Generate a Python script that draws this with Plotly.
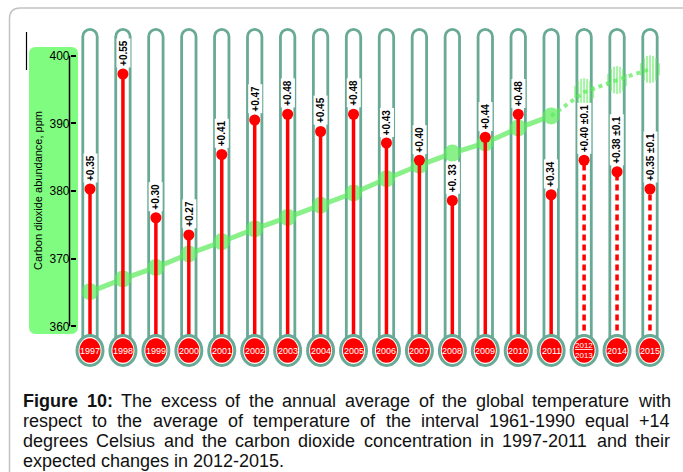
import math
import plotly.graph_objects as go

# ---------------- data ----------------
years = ["1997", "1998", "1999", "2000", "2001", "2002", "2003", "2004", "2005",
         "2006", "2007", "2008", "2009", "2010", "2011", "2012/2013", "2014", "2015"]
temp_anomaly = [0.35, 0.55, 0.30, 0.27, 0.41, 0.47, 0.48, 0.45, 0.48,
                0.43, 0.40, 0.33, 0.44, 0.48, 0.34, 0.40, 0.38, 0.35]
temp_labels = ["+0.35", "+0.55", "+0.30", "+0.27", "+0.41", "+0.47", "+0.48", "+0.45", "+0.48",
               "+0.43", "+0.40", "+0. 33", "+0.44", "+0.48", "+0.34",
               "+0.40 ±0.1", "+0.38 ±0.1", "+0.35 ±0.1"]
co2_ppm = [365.1, 367.0, 368.7, 370.7, 372.5, 374.4, 376.1, 377.9, 379.7,
           381.8, 383.8, 385.6, 387.1, 389.3, 391.1, 394.6, 396.4, 398.0]
n_observed = 15          # 1997-2011 measured, the rest expected
ppm_ticks = [360, 370, 380, 390, 400]
axis_title = "Carbon dioxide abundance, ppm"
caption_lines = [
    "Figure 10: The excess of the annual average of the global temperature with",
    "respect to the average of temperature of the interval 1961-1990 equal +14",
    "degrees Celsius and the carbon dioxide concentration in 1997-2011 and their",
    "expected changes in 2012-2015.",
]

# ---------------- geometry / styles ----------------
W, H = 683, 472
COL0_PX, COL_STEP_PX = 90.0, 32.94
PPM_REF, PPM_REF_PX, PX_PER_PPM = 400.0, 55.7, 6.765
T_REF, T_REF_PX, PX_PER_DEG = 0.35, 189.0, 575.0
BULB_PX = 350.5
TUBE_TOP_PX = 29.4
AXIS_X_PX = 69.5

TEAL = "rgb(104,170,150)"
GREEN = "rgb(90,236,90)"
BOX_GREEN = "rgb(128,252,128)"
RED = "#ff0000"
FONT = "Liberation Sans, Arial, sans-serif"
NARROW = "Liberation Sans Narrow, Arial Narrow, Liberation Sans, sans-serif"


def ppm_at(py):
    return PPM_REF - (py - PPM_REF_PX) / PX_PER_PPM


def temp_at(py):
    return T_REF - (py - T_REF_PX) / PX_PER_DEG


def dx(px):
    return px / COL_STEP_PX


def dppm(px):
    return px / PX_PER_PPM


def px_x(p):
    return p / W


def px_y(p):
    return 1 - p / H


n = len(years)
idx = list(range(n))
x_range = [(0 - COL0_PX) / COL_STEP_PX, (W - COL0_PX) / COL_STEP_PX]
y_range = [ppm_at(H), ppm_at(0)]
y2_range = [temp_at(H), temp_at(0)]

fig = go.Figure()

# thermometer tubes
base = ppm_at(BULB_PX)
fig.add_trace(go.Bar(
    x=idx, y=[ppm_at(TUBE_TOP_PX) - base] * n, base=base, width=dx(14.4),
    marker=dict(color="white", line=dict(color=TEAL, width=2.8), cornerradius="50%"),
    hoverinfo="skip"))

# CO2 observed
fig.add_trace(go.Scatter(
    x=idx[:n_observed], y=co2_ppm[:n_observed], mode="lines+markers",
    line=dict(color=GREEN, width=5), marker=dict(size=17, color=GREEN),
    opacity=0.7, hoverinfo="skip"))
# CO2 expected (dotted)
fig.add_trace(go.Scatter(
    x=idx[n_observed - 1:], y=co2_ppm[n_observed - 1:], mode="lines",
    line=dict(color=GREEN, width=4, dash="dot"), opacity=0.7, hoverinfo="skip"))
# hatched markers for the expected CO2 points
hx, hy, hs = [], [], []
R = 10.0
for j in range(n_observed, n):
    for k in range(-3, 4):
        off = 3.0 * k
        hx.append(j + dx(off))
        hy.append(co2_ppm[j])
        hs.append(2 * math.sqrt(R * R - off * off))
fig.add_trace(go.Scatter(
    x=hx, y=hy, mode="markers",
    marker=dict(symbol="line-ns", size=hs, line=dict(color=GREEN, width=2)),
    opacity=0.75, hoverinfo="skip"))

# red thermometer columns (temperature axis)
t_bulb = temp_at(BULB_PX)
sx, sy, dxs, dys = [], [], [], []
for i in idx:
    if i < n_observed:
        sx += [i, i, None]
        sy += [t_bulb, temp_anomaly[i], None]
    else:
        dxs += [i, i, None]
        dys += [t_bulb, temp_anomaly[i], None]
fig.add_trace(go.Scatter(x=sx, y=sy, yaxis="y2", mode="lines",
                         line=dict(color=RED, width=3.5), hoverinfo="skip"))
fig.add_trace(go.Scatter(x=dxs, y=dys, yaxis="y2", mode="lines",
                         line=dict(color=RED, width=3.5, dash="6px,4px"), hoverinfo="skip"))
fig.add_trace(go.Scatter(x=idx, y=temp_anomaly, yaxis="y2", mode="markers",
                         marker=dict(size=11, color=RED), hoverinfo="skip"))

shapes = []


def rounded_rect(x0, y0, x1, y1, r):
    pts = [
        f"M{px_x(x0 + r)},{px_y(y0)}",
        f"L{px_x(x1 - r)},{px_y(y0)}",
        f"Q{px_x(x1)},{px_y(y0)} {px_x(x1)},{px_y(y0 + r)}",
        f"L{px_x(x1)},{px_y(y1 - r)}",
        f"Q{px_x(x1)},{px_y(y1)} {px_x(x1 - r)},{px_y(y1)}",
        f"L{px_x(x0 + r)},{px_y(y1)}",
        f"Q{px_x(x0)},{px_y(y1)} {px_x(x0)},{px_y(y1 - r)}",
        f"L{px_x(x0)},{px_y(y0 + r)}",
        f"Q{px_x(x0)},{px_y(y0)} {px_x(x0 + r)},{px_y(y0)}",
        "Z",
    ]
    return " ".join(pts)


# outer frame (grey rounded corner)
shapes.append(dict(type="path", xref="paper", yref="paper", layer="below",
                   path=(f"M{px_x(9.5)},{px_y(H)} L{px_x(9.5)},{px_y(19)} "
                         f"Q{px_x(9.5)},{px_y(8)} {px_x(20)},{px_y(8)} L{px_x(W)},{px_y(8)}"),
                   line=dict(color="rgb(195,195,195)", width=1.5)))
# small black mark at top-left
shapes.append(dict(type="line", xref="paper", yref="paper",
                   x0=px_x(26.5), x1=px_x(26.5), y0=px_y(32), y1=px_y(70),
                   line=dict(color="black", width=1.2)))
# green box behind the CO2 axis
shapes.append(dict(type="path", xref="paper", yref="paper", layer="below",
                   path=rounded_rect(29, 47, 78, 334, 7),
                   fillcolor=BOX_GREEN, line=dict(width=0)))
# CO2 axis line
shapes.append(dict(type="line", xref="paper", yref="y",
                   x0=px_x(AXIS_X_PX), x1=px_x(AXIS_X_PX),
                   y0=ppm_ticks[0], y1=ppm_ticks[-1],
                   line=dict(color="black", width=1.5)))
# thermometer bulbs
for i in idx:
    shapes.append(dict(type="circle", xref="x", yref="y", layer="above",
                       x0=i - dx(13), x1=i + dx(13),
                       y0=base - dppm(15), y1=base + dppm(15),
                       fillcolor="white", line=dict(color=TEAL, width=3)))
    shapes.append(dict(type="circle", xref="x", yref="y", layer="above",
                       x0=i - dx(10.5), x1=i + dx(10.5),
                       y0=base - dppm(12.2), y1=base + dppm(12.2),
                       fillcolor=RED, line=dict(width=0)))

annotations = []
# year labels
for i, yr in enumerate(years):
    if "/" in yr:
        a, b = yr.split("/")
        txt, size = f"<u>{a}</u><br>{b}", 8
    else:
        txt, size = yr, 9
    annotations.append(dict(x=i, y=base, xref="x", yref="y", text=txt, showarrow=False,
                            font=dict(family=NARROW, size=size, color="white"),
                            xanchor="center", yanchor="middle", borderpad=0))
# temperature labels
for i, lab in enumerate(temp_labels):
    annotations.append(dict(x=i, y=temp_anomaly[i], xref="x", yref="y2", text=f"<b>{lab}</b>",
                            showarrow=False, textangle=-90, yanchor="bottom", xanchor="center",
                            yshift=6, bgcolor="white", borderpad=1,
                            font=dict(family=FONT, size=10, color="black")))
# axis title
annotations.append(dict(x=px_x(38), y=px_y(191), xref="paper", yref="paper", text=axis_title,
                        showarrow=False, textangle=-90, xanchor="center", yanchor="middle",
                        font=dict(family=FONT, size=11, color="black")))

# caption, justified word by word (Arial / Liberation Sans metrics)
REG = dict(zip("abcdefghijklmnopqrstuvwxyz",
               [556, 556, 500, 556, 556, 278, 556, 556, 222, 222, 500, 222, 833,
                556, 556, 556, 556, 333, 500, 278, 556, 500, 722, 500, 500, 500]))
REG.update({c: 556 for c in "0123456789"})
REG.update({" ": 278, ".": 278, ",": 278, ":": 278, "-": 333, "+": 584,
            "C": 722, "F": 611, "T": 611})
BOLD = dict(REG)
BOLD.update({"F": 611, "i": 278, "g": 611, "u": 611, "r": 389, "e": 556, ":": 333})
CAP_SIZE = 18
CAP_LEFT, CAP_RIGHT = 22.0, 669.0
CAP_Y = [401, 421, 441, 460.5]


def wwidth(word, bold):
    tbl = BOLD if bold else REG
    return sum(tbl.get(c, 556) for c in word) * CAP_SIZE / 1000.0


for li, line in enumerate(caption_lines):
    words = line.split(" ")
    bolds = [li == 0 and wi < 2 for wi in range(len(words))]
    widths = [wwidth(w, b) for w, b in zip(words, bolds)]
    if li < len(caption_lines) - 1:
        gap = (CAP_RIGHT - CAP_LEFT - sum(widths)) / (len(words) - 1)
    else:
        gap = REG[" "] * CAP_SIZE / 1000.0
    xcur = CAP_LEFT
    for w, b, wd in zip(words, bolds, widths):
        annotations.append(dict(x=px_x(xcur - 1), y=px_y(CAP_Y[li]), xref="paper", yref="paper",
                                text=f"<b>{w}</b>" if b else w, showarrow=False,
                                xanchor="left", yanchor="middle",
                                font=dict(family=FONT, size=CAP_SIZE, color="#111111")))
        xcur += wd + gap

fig.update_layout(
    width=W, height=H, margin=dict(l=0, r=0, t=0, b=0, pad=0),
    paper_bgcolor="white", plot_bgcolor="white", showlegend=False, barmode="overlay",
    xaxis=dict(range=x_range, visible=False, fixedrange=True),
    yaxis=dict(range=y_range, tickvals=ppm_ticks, ticks="inside", ticklen=5, tickwidth=1.5,
               tickcolor="black", showgrid=False, zeroline=False, showline=False,
               anchor="free", position=px_x(AXIS_X_PX), fixedrange=True,
               tickfont=dict(family=FONT, size=12, color="black")),
    yaxis2=dict(range=y2_range, overlaying="y", visible=False, fixedrange=True),
    shapes=shapes, annotations=annotations,
)

fig.write_html(
    "out.html",
    config={"displayModeBar": False},
    post_script="document.body.style.margin='0';document.body.style.overflow='hidden';",
)
